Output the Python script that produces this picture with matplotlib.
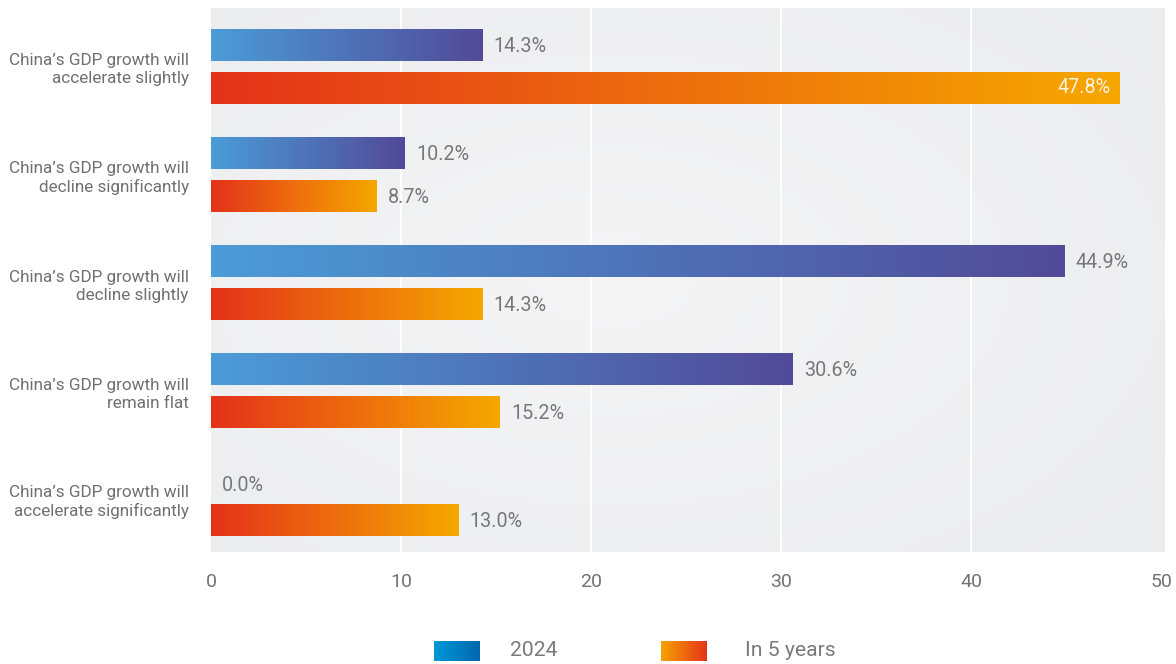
import numpy as np
import matplotlib
matplotlib.use("Agg")
import matplotlib.pyplot as plt
from matplotlib.colors import LinearSegmentedColormap

plt.rcParams['font.family'] = ['Roboto', 'DejaVu Sans']
plt.rcParams['font.weight'] = 'normal'

categories = [
    "China’s GDP growth will\naccelerate slightly",
    "China’s GDP growth will\ndecline significantly",
    "China’s GDP growth will\ndecline slightly",
    "China’s GDP growth will\nremain flat",
    "China’s GDP growth will\naccelerate significantly",
]
now_2024 = [14.3, 10.2, 44.9, 30.6, 0.0]
in_5_years = [47.8, 8.7, 14.3, 15.2, 13.0]
series_names = ["2024", "In 5 years"]
x_ticks = [0, 10, 20, 30, 40, 50]

blue_cmap = LinearSegmentedColormap.from_list("blue", ["#4b9cd8", "#524a98"])
orange_cmap = LinearSegmentedColormap.from_list("orange", ["#e4321a", "#f6a800"])
legend_blue = LinearSegmentedColormap.from_list("lb", ["#0098d8", "#0067ae"])
legend_orange = LinearSegmentedColormap.from_list("lo", ["#f6a300", "#e5341a"])
bg_cmap = LinearSegmentedColormap.from_list("bg", ["#f5f5f6", "#ebecee"])

fig = plt.figure(figsize=(11.76, 6.64), dpi=100)
ax = fig.add_axes([211 / 1176, 1 - 552 / 664, 954 / 1176, 544 / 664])

xmax = 50.2
ylim = (4.49, -0.546)

# soft radial background
gx, gy = np.meshgrid(np.linspace(0, 1, 400), np.linspace(0, 1, 300))
r = np.sqrt(((gx - 0.42) / 0.75) ** 2 + ((gy - 0.5) / 0.75) ** 2)
ax.imshow(np.clip(r, 0, 1), cmap=bg_cmap, vmin=0, vmax=1,
          extent=(0, xmax, ylim[0], ylim[1]), aspect='auto', zorder=0)

for t in x_ticks[1:-1]:
    ax.axvline(t, color='white', lw=1.4, zorder=1)

grad = np.linspace(0, 1, 256).reshape(1, -1)
off, h = 0.199, 0.287
for i, (a, b) in enumerate(zip(now_2024, in_5_years)):
    for val, yc, cmap in ((a, i - off, blue_cmap), (b, i + off, orange_cmap)):
        if val > 0:
            ax.imshow(grad, cmap=cmap, extent=(0, val, yc + h / 2, yc - h / 2),
                      aspect='auto', zorder=2)
        if val > 45:
            ax.annotate(f"{val:.1f}%", (val, yc), xytext=(-6, 0.5),
                        textcoords='offset points', ha='right', va='center',
                        fontsize=14.2, color='#fdf2de', zorder=3)
        else:
            dy = -6 if val == 0 else -0.5
            ax.annotate(f"{val:.1f}%", (val, yc), xytext=(8, dy),
                        textcoords='offset points', ha='left', va='center',
                        fontsize=14.2, color='#787878', zorder=3)

ax.set_xlim(0, xmax)
ax.set_ylim(*ylim)
ax.set_xticks(x_ticks)
ax.set_xticklabels([str(t) for t in x_ticks], fontsize=14, color='#727272')
ax.set_yticks(range(len(categories)))
ax.set_yticklabels(categories, fontsize=12.3, color='#707070', linespacing=1.25)
ax.tick_params(length=0)
ax.tick_params(axis='x', pad=15)
ax.tick_params(axis='y', pad=16)
for s in ax.spines.values():
    s.set_visible(False)

# legend swatches
for x0, cmap, name, tx in ((434, legend_blue, series_names[0], 510),
                           (661, legend_orange, series_names[1], 745)):
    lax = fig.add_axes([x0 / 1176, 1 - 661 / 664, 46 / 1176, 20 / 664])
    lax.imshow(grad, cmap=cmap, aspect='auto')
    lax.axis('off')
    fig.text(tx / 1176, 1 - 651 / 664, name, fontsize=15.2, color='#7a7a7a',
             ha='left', va='center')

fig.savefig("out.png", dpi=100)
